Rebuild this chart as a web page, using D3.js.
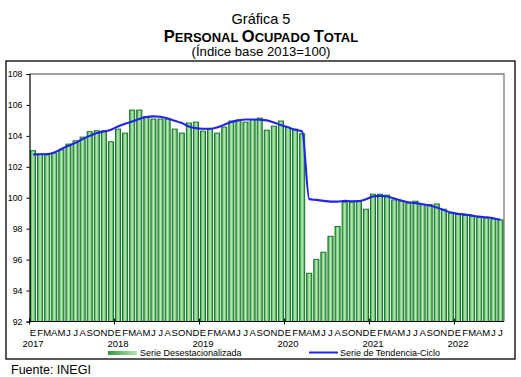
<!DOCTYPE html>
<html><head><meta charset="utf-8">
<script src="https://cdn.jsdelivr.net/npm/d3@7"></script>
<style>
body{margin:0;background:#fff;}
svg{font-family:"Liberation Sans",Arial,sans-serif;}
</style></head>
<body><svg id="c" width="521" height="377"></svg>
<script>
const years = ["2017","2018","2019","2020","2021","2022"];
const monthLetters = ["E","F","M","A","M","J","J","A","S","O","N","D"];
const desest = [
 103.04,102.82,102.78,102.89,103.10,103.47,103.68,103.92,104.27,104.33,104.33,103.62,
 104.44,104.18,105.67,105.67,105.26,105.09,105.09,105.09,104.44,104.18,104.83,104.89,
 104.31,104.44,104.18,104.57,104.96,105.02,104.89,105.06,105.15,104.37,104.63,104.96,
 104.55,104.44,104.14,95.12,96.02,96.48,97.51,98.14,99.71,99.71,99.78,99.26,
 100.23,100.23,100.17,99.86,99.78,99.65,99.78,99.56,99.56,99.60,99.26,99.00,
 98.92,98.85,98.78,98.74,98.68,98.63,98.57
];
const tendencia = [
 102.80,102.81,102.82,102.93,103.15,103.36,103.55,103.79,104.00,104.18,104.28,104.40,
 104.61,104.78,104.93,105.09,105.22,105.26,105.24,105.13,104.98,104.83,104.61,104.50,
 104.46,104.46,104.55,104.72,104.89,105.00,105.06,105.06,105.04,105.00,104.87,104.70,
 104.55,104.40,104.28,99.91,99.86,99.80,99.75,99.75,99.80,99.77,99.78,99.90,
 100.08,100.12,100.08,99.95,99.82,99.71,99.65,99.58,99.50,99.37,99.20,99.04,
 98.96,98.92,98.85,98.78,98.74,98.68,98.57
];
const yTicks = [92,94,96,98,100,102,104,106,108];
const legendLabels = ["Serie Desestacionalizada","Serie de Tendencia-Ciclo"];

const svg = d3.select("#c");
const n = desest.length;
const idx = d3.range(n);
const x = d3.scaleBand().domain(idx).range([29.5, 504]).paddingInner(0.28).paddingOuter(0.14);
const y = d3.scaleLinear().domain([92,108]).range([321.5, 74]);

// gradient
const defs = svg.append("defs");
const g1 = defs.append("linearGradient").attr("id","barg").attr("x1","0%").attr("x2","100%").attr("y1","0%").attr("y2","0%");
g1.append("stop").attr("offset","0%").attr("stop-color","#34a444");
g1.append("stop").attr("offset","50%").attr("stop-color","#bfeabb");
g1.append("stop").attr("offset","100%").attr("stop-color","#34a444");
const g2 = defs.append("linearGradient").attr("id","legg").attr("x1","0%").attr("x2","100%");
g2.append("stop").attr("offset","0%").attr("stop-color","#2e9a3e");
g2.append("stop").attr("offset","100%").attr("stop-color","#b8e6b0");

// outer frame
svg.append("rect").attr("x",6).attr("y",61).attr("width",509).attr("height",298)
  .attr("fill","none").attr("stroke","#000").attr("stroke-width",1.3);

// titles
svg.append("text").attr("x",261).attr("y",24).attr("text-anchor","middle")
  .attr("font-size",14.5).text("Gráfica 5");
const t2 = svg.append("text").attr("x",261).attr("y",41.5).attr("text-anchor","middle")
  .attr("font-weight","bold").attr("font-size",13);
[["P",16.5],["ERSONAL ",13],["O",16.5],["CUPADO ",13],["T",16.5],["OTAL",13]].forEach(([s,f])=>{
  t2.append("tspan").attr("font-size",f).text(s);
});
svg.append("text").attr("x",261).attr("y",56).attr("text-anchor","middle")
  .attr("font-size",13.2).text("(Índice base 2013=100)");

// plot frame (gray)
svg.append("path").attr("d",`M29.5,74H504V321.5`).attr("fill","none").attr("stroke","#808080").attr("stroke-width",1.3);

// bars
svg.append("g").selectAll("rect").data(desest).join("rect")
  .attr("x",(d,i)=>x(i)).attr("width",x.bandwidth())
  .attr("y",d=>y(d)).attr("height",d=>y(92)-y(d))
  .attr("fill","url(#barg)").attr("stroke","#0b6b1c").attr("stroke-width",0.9);

// trend line
const line = d3.line().x((d,i)=>x(i)+x.bandwidth()/2).y(d=>y(d)).curve(d3.curveMonotoneX);
svg.append("path").datum(tendencia).attr("d",line)
  .attr("fill","none").attr("stroke","#2323ee").attr("stroke-width",2.1);

// y axis
const ya = svg.append("g").attr("transform","translate(29.5,0)")
  .call(d3.axisLeft(y).tickValues(yTicks).tickSize(3).tickPadding(4).tickFormat(d3.format("d")));
ya.select(".domain").attr("stroke","#000").attr("stroke-width",1.2);
ya.selectAll("text").attr("font-size",8.8).attr("font-family","Liberation Sans, Arial, sans-serif").attr("fill","#000");

// x axis line + year ticks
const xl = d3.scaleLinear().domain([0,n]).range([29.5,504]);
svg.append("line").attr("x1",29.5).attr("x2",504).attr("y1",321.5).attr("y2",321.5).attr("stroke","#000").attr("stroke-width",1.2);
svg.append("g").selectAll("line").data(d3.range(0,n,12)).join("line")
  .attr("x1",d=>xl(d)).attr("x2",d=>xl(d)).attr("y1",318.5).attr("y2",324.5)
  .attr("stroke","#000").attr("stroke-width",1);

// month letters
svg.append("g").selectAll("text").data(idx).join("text")
  .attr("x",i=>x(i)+x.bandwidth()/2).attr("y",336)
  .attr("text-anchor","middle").attr("font-size",9.5)
  .text(i=>monthLetters[i%12]);
// years
svg.append("g").selectAll("text").data(years).join("text")
  .attr("x",(d,k)=>x(k*12)+x.bandwidth()/2).attr("y",347)
  .attr("text-anchor","middle").attr("font-size",9.5).text(d=>d);

// legend
svg.append("rect").attr("x",108).attr("y",351).attr("width",29).attr("height",4).attr("fill","url(#legg)");
svg.append("text").attr("x",140).attr("y",355.5).attr("font-size",9).text(legendLabels[0]);
svg.append("line").attr("x1",309).attr("x2",338).attr("y1",352.5).attr("y2",352.5).attr("stroke","#2323ee").attr("stroke-width",2);
svg.append("text").attr("x",340).attr("y",355.5).attr("font-size",9).text(legendLabels[1]);

// source
svg.append("text").attr("x",11).attr("y",374).attr("font-size",12.5).text("Fuente: INEGI");
</script></body></html>
